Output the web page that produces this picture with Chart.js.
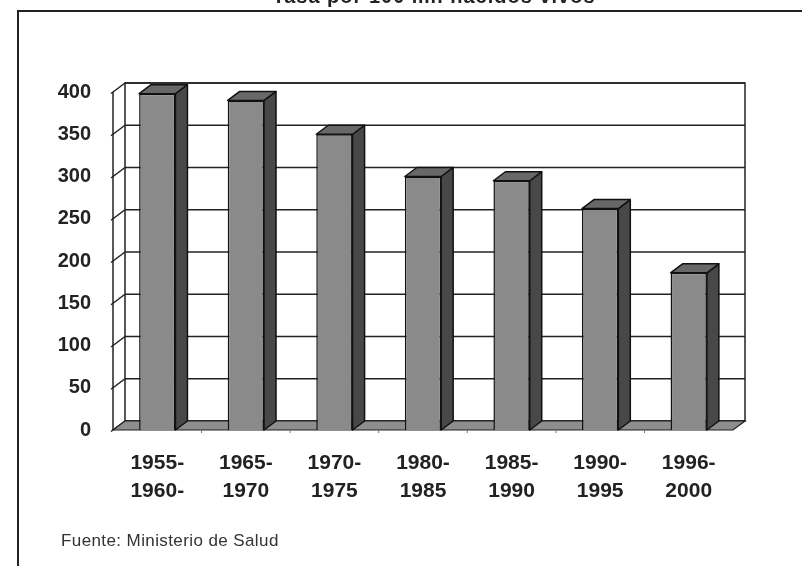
<!DOCTYPE html>
<html lang="es">
<head>
    <meta charset="UTF-8">
    <title>Tasa por 100 mil nacidos vivos</title>
    <style>
        body {
            margin: 0;
            background: #ffffff;
        }
        .chart-box {
            width: 802px;
            height: 566px;
            position: relative;
        }
    </style>
</head>
<body>

<div class="chart-box">
    <canvas id="grafico"></canvas>
</div>

<script src="https://cdn.jsdelivr.net/npm/chart.js"></script>
<script>
    // Datos del gráfico
    const periodos = [
        ['1955-', '1960-'],
        ['1965-', '1970'],
        ['1970-', '1975'],
        ['1980-', '1985'],
        ['1985-', '1990'],
        ['1990-', '1995'],
        ['1996-', '2000']
    ];
    const tasas = [398, 390, 350, 300, 295, 262, 186];
    const marcasY = [0, 50, 100, 150, 200, 250, 300, 350, 400];
    const titulo = 'Tasa por 100 mil nacidos vivos';
    const fuente = 'Fuente: Ministerio de Salud';

    const FUENTE = 'Arial, "Liberation Sans", sans-serif';
    // desplazamiento de la profundidad 3D
    const DX = 12;
    const DY = -9;

    function poligono(ctx, pts, relleno) {
        ctx.beginPath();
        ctx.moveTo(pts[0][0], pts[0][1]);
        for (let i = 1; i < pts.length; i++) ctx.lineTo(pts[i][0], pts[i][1]);
        ctx.closePath();
        if (relleno) {
            ctx.fillStyle = relleno;
            ctx.fill();
        }
        ctx.stroke();
    }

    // Paredes, piso y cuadrícula antes de las barras
    const fondo3D = {
        id: 'fondo3D',
        beforeDatasetsDraw(chart) {
            const ctx = chart.ctx;
            const xs = chart.scales.x;
            const ys = chart.scales.y;
            const izq = xs.left, der = xs.right;
            const y0 = ys.getPixelForValue(0);
            const yTop = ys.getPixelForValue(marcasY[marcasY.length - 1]);

            ctx.save();
            ctx.strokeStyle = '#222';
            ctx.lineWidth = 1.5;

            // pared del fondo
            ctx.fillStyle = '#fff';
            ctx.fillRect(izq + DX, yTop + DY, der - izq, y0 - yTop);
            ctx.strokeRect(izq + DX, yTop + DY, der - izq, y0 - yTop);

            // líneas de la cuadrícula y pared izquierda
            marcasY.forEach(v => {
                const y = ys.getPixelForValue(v);
                ctx.beginPath();
                ctx.moveTo(izq + DX, y + DY);
                ctx.lineTo(der + DX, y + DY);
                ctx.stroke();
                ctx.beginPath();
                ctx.moveTo(izq - 2, y + 1.5);
                ctx.lineTo(izq + DX, y + DY);
                ctx.stroke();
            });
            ctx.beginPath();
            ctx.moveTo(izq, y0);
            ctx.lineTo(izq, yTop);
            ctx.stroke();

            // piso
            ctx.lineWidth = 1.2;
            poligono(ctx, [[izq, y0], [der, y0], [der + DX, y0 + DY], [izq + DX, y0 + DY]], '#8e8e8e');

            // marcas de categoría
            ctx.strokeStyle = '#777';
            ctx.lineWidth = 1;
            for (let i = 1; i < periodos.length; i++) {
                const x = izq + (der - izq) * i / periodos.length;
                ctx.beginPath();
                ctx.moveTo(x, y0);
                ctx.lineTo(x, y0 + 3);
                ctx.stroke();
            }
            ctx.restore();
        },
        // caras laterales y superiores de las barras
        afterDatasetsDraw(chart) {
            const ctx = chart.ctx;
            ctx.save();
            ctx.strokeStyle = '#111';
            ctx.lineWidth = 1.5;
            ctx.lineJoin = 'round';
            chart.getDatasetMeta(0).data.forEach(bar => {
                const l = bar.x - bar.width / 2;
                const r = bar.x + bar.width / 2;
                poligono(ctx, [[r, bar.y], [r + DX, bar.y + DY], [r + DX, bar.base + DY], [r, bar.base]], '#484848');
                poligono(ctx, [[l, bar.y], [l + DX, bar.y + DY], [r + DX, bar.y + DY], [r, bar.y]], '#686868');
            });
            ctx.restore();
        },
        // marco, título recortado y fuente
        afterDraw(chart) {
            const ctx = chart.ctx;
            ctx.save();
            ctx.strokeStyle = '#222';
            ctx.lineWidth = 2;
            ctx.beginPath();
            ctx.moveTo(18, 566);
            ctx.lineTo(18, 11);
            ctx.lineTo(802, 11);
            ctx.stroke();

            ctx.fillStyle = '#222';
            ctx.font = 'bold 20px ' + FUENTE;
            ctx.letterSpacing = '1px';
            ctx.textAlign = 'center';
            ctx.textBaseline = 'alphabetic';
            ctx.fillText(titulo, 434, 3);

            ctx.fillStyle = '#333';
            ctx.font = '17px ' + FUENTE;
            ctx.letterSpacing = '0.4px';
            ctx.textAlign = 'left';
            ctx.textBaseline = 'middle';
            ctx.fillText(fuente, 61, 541);
            ctx.restore();
        }
    };

    const ctx = document.getElementById('grafico').getContext('2d');
    new Chart(ctx, {
        type: 'bar',
        data: {
            labels: periodos,
            datasets: [{
                data: tasas,
                backgroundColor: '#8a8a8a',
                borderColor: '#111',
                borderWidth: 1.5,
                categoryPercentage: 1,
                barPercentage: 0.41
            }]
        },
        options: {
            responsive: true,
            maintainAspectRatio: false,
            animation: false,
            layout: {
                padding: { top: 92, right: 69, bottom: 0, left: 0 }
            },
            plugins: {
                legend: { display: false },
                tooltip: { enabled: false }
            },
            scales: {
                x: {
                    grid: { display: false, drawTicks: false },
                    border: { display: false },
                    ticks: {
                        color: '#222',
                        padding: 20,
                        maxRotation: 0,
                        autoSkip: false,
                        font: { family: FUENTE, size: 21, weight: 'bold', lineHeight: 1.3 }
                    },
                    afterFit(scale) { scale.height = 136; }
                },
                y: {
                    min: 0,
                    max: 400,
                    grid: { display: false, drawTicks: false },
                    border: { display: false },
                    ticks: {
                        stepSize: 50,
                        color: '#222',
                        padding: 22,
                        font: { family: FUENTE, size: 20, weight: 'bold' }
                    },
                    afterFit(scale) { scale.width = 113; }
                }
            }
        },
        plugins: [fondo3D]
    });
</script>

</body>
</html>
